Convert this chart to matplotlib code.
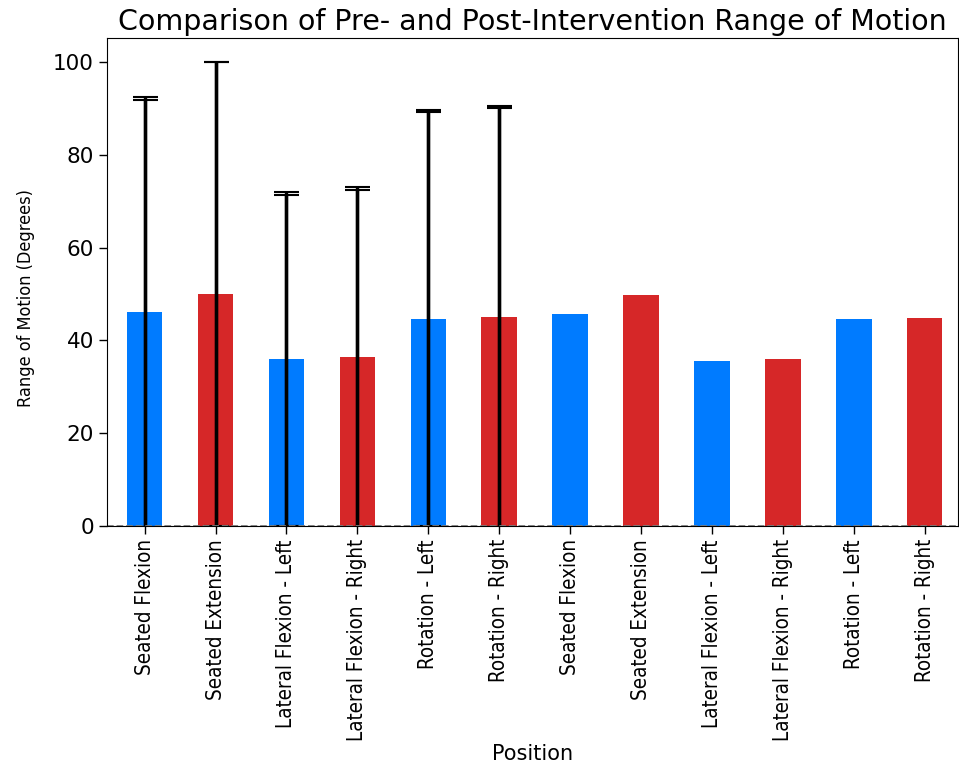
import matplotlib
matplotlib.use('Agg')
import matplotlib.pyplot as plt
import numpy as np

positions = ['Seated Flexion', 'Seated Extension', 'Lateral Flexion - Left',
             'Lateral Flexion - Right', 'Rotation - Left', 'Rotation - Right']
pre_means = [46.1, 50.0, 35.9, 36.4, 44.6, 45.1]
post_means = [45.7, 49.8, 35.6, 36.0, 44.6, 44.8]
pre_sd = [46.4, 50.1, 36.0, 36.7, 45.1, 45.4]
post_sd = [46.1, 50.2, 35.7, 36.4, 44.7, 45.3]

labels = positions + positions
values = pre_means + post_means
colors = ['#007bff', '#d62728'] * 6

fig = plt.figure(figsize=(9.59, 7.69), dpi=100)
ax = fig.add_axes([0.1116, 0.316, 0.8874, 0.6346])

x = np.arange(len(values))
ax.bar(x, values, width=0.5, color=colors)
# error bars over the first six positions (two overlapping sets)
xe = np.arange(len(positions))
ax.errorbar(xe, pre_means, yerr=pre_sd, fmt='none', ecolor='black',
            elinewidth=2.4, capsize=9, capthick=1.5)
ax.errorbar(xe, post_means, yerr=post_sd, fmt='none', ecolor='black',
            elinewidth=2.4, capsize=9, capthick=1.5)
ax.axhline(0, color='gray', linestyle='--', linewidth=1.3)

ax.set_xlim(-0.53, 11.47)
ax.set_ylim(0, 105.2)
ax.set_xticks(x)
ax.set_xticklabels(labels, rotation=90, fontsize=14.8, fontstretch='condensed')
ax.tick_params(axis='y', labelsize=15.5)
ax.tick_params(length=6, width=1)
ax.set_xlabel('Position', fontsize=15, labelpad=2)
ax.set_ylabel('Range of Motion (Degrees)', fontsize=13, fontstretch='condensed')
ax.yaxis.set_label_coords(-0.0846, 0.467)
ax.set_title('Comparison of Pre- and Post-Intervention Range of Motion', fontsize=20.5)

plt.savefig('out.png', dpi=100)
